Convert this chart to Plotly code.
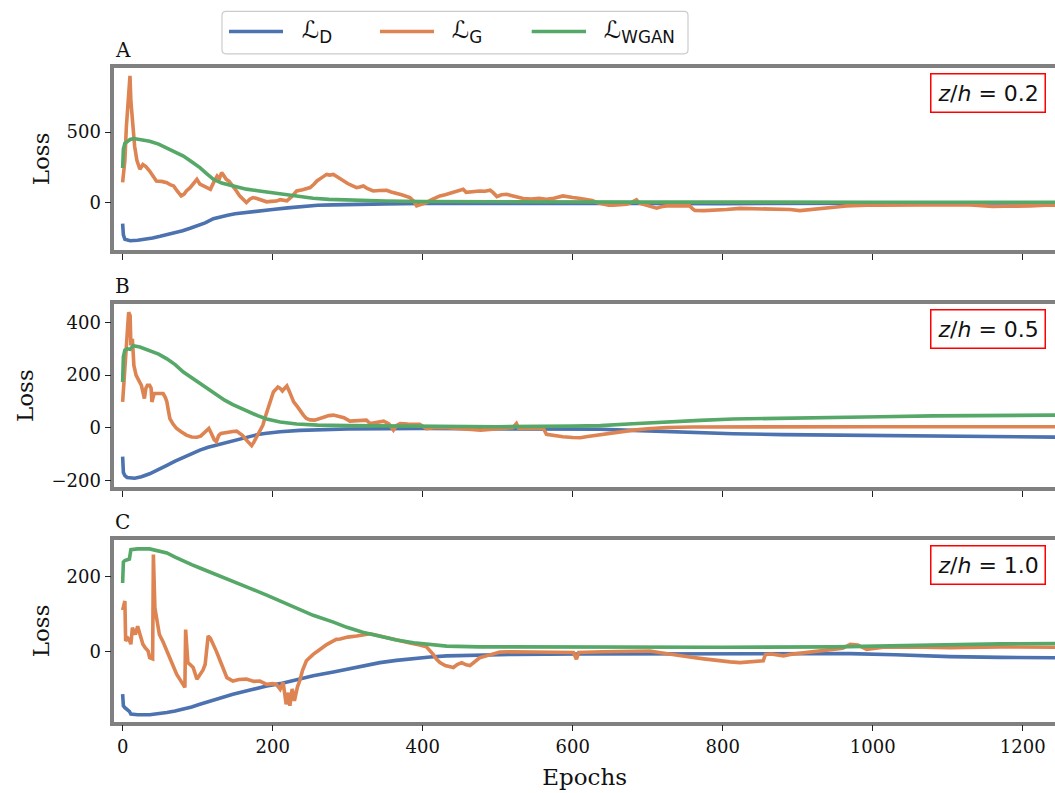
import plotly.graph_objects as go

# ---------------- data ----------------
a_d_ep = [0, 1, 3, 6, 10, 20, 30, 40, 50, 60, 70, 80, 90, 100, 110, 121, 130, 140, 150, 160, 180, 200, 220, 240, 260, 280, 300, 350, 400, 500, 600, 700, 800, 900, 1000, 1100, 1250]
a_d = [-150, -230, -262, -268, -272, -268, -262, -252, -240, -228, -215, -200, -183, -165, -145, -115, -100, -90, -80, -75, -62, -50, -38, -26, -20, -17, -14, -10, -6, -4, -4, -6, -8, -8, -6, -3, -2]

a_g_ep = [0, 3, 5, 7, 9.8, 11, 12, 14, 16, 19, 23, 27, 31, 36, 41, 45, 52, 59, 64, 68, 73, 78, 82, 85, 90, 95, 99, 103, 110, 117, 122, 126, 129, 132, 135, 138, 142, 147, 152, 156, 161, 165, 170, 174, 178, 183, 188, 192, 198, 205, 210, 215, 219, 225, 232, 240, 250, 255, 259, 265, 272, 276, 281, 287, 294, 300, 306, 312, 316, 321, 326, 334, 342, 352, 358, 365, 372, 383, 388, 392, 398, 405, 412, 418, 423, 430, 441, 447, 454, 458, 465, 476, 483, 490, 494, 499, 505, 512, 518, 525, 534, 545, 555, 565, 575, 587, 593, 600, 608, 619, 626, 632, 640, 648, 654, 663, 672, 680, 685, 689, 694, 705, 712, 718, 725, 740, 756, 760, 763, 775, 792, 805, 823, 840, 854, 876, 890, 903, 915, 930, 943, 955, 965, 980, 992, 1010, 1036, 1060, 1080, 1100, 1125, 1145, 1160, 1175, 1192, 1210, 1230, 1250]
a_g = [143, 300, 540, 700, 900, 720, 660, 560, 400, 300, 236, 270, 255, 224, 190, 153, 150, 141, 125, 118, 80, 47, 60, 82, 105, 140, 165, 130, 110, 94, 150, 188, 170, 212, 190, 165, 150, 118, 80, 47, 20, 0, 25, 35, 30, 23, 10, 5, 8, 10, 20, 12, 12, 40, 82, 90, 106, 130, 153, 175, 200, 195, 200, 180, 153, 135, 120, 106, 110, 118, 100, 82, 85, 87, 75, 66, 55, 35, 10, -24, -15, 0, 20, 35, 47, 55, 71, 80, 94, 72, 78, 82, 80, 87, 70, 42, 55, 59, 50, 40, 28, 25, 30, 23, 30, 47, 40, 35, 30, 23, 15, 0, -10, -20, -19, -15, -12, 5, 20, -5, -12, -25, -40, -30, -24, -22, -24, -45, -57, -58, -57, -50, -42, -45, -42, -45, -50, -58, -52, -47, -42, -30, -24, -20, -19, -20, -19, -15, -12, -14, -15, -22, -28, -27, -28, -24, -20, -19]

a_w_ep = [0, 1, 3, 6, 10, 15, 25, 36, 48, 59, 70, 81, 92, 103, 112, 121, 132, 147, 165, 180, 192, 210, 230, 254, 275, 300, 350, 400, 500, 700, 1000, 1250]
a_w = [245, 380, 420, 432, 448, 455, 448, 436, 415, 389, 360, 330, 290, 248, 205, 165, 138, 118, 95, 84, 75, 66, 45, 30, 22, 17, 11, 7, 4, 3, 2, 2]

b_d_ep = [0, 1, 3, 6, 16, 25, 36, 48, 59, 70, 81, 92, 103, 114, 125, 136, 147, 160, 170, 180, 192, 210, 236, 270, 300, 400, 500, 600, 637, 680, 725, 770, 814, 880, 947, 1010, 1080, 1160, 1250]
b_d = [-110, -170, -182, -189, -192, -186, -175, -160, -143, -127, -112, -97, -85, -74, -66, -56, -47, -38, -32, -26, -21, -15, -10, -7, -5, -3, -3, -4, -6, -10, -15, -20, -23, -26, -28, -30, -32, -34, -36]

b_g_ep = [0, 1, 3, 5, 7, 8, 10, 11, 13, 15, 18, 22, 25, 27, 29, 31, 33, 36, 38, 39, 42, 48, 54, 57, 59, 61, 63, 67, 72, 78, 85, 92, 99, 104, 108, 112, 115, 118, 122, 125, 128, 131, 138, 147, 152, 156, 160, 165, 170, 172, 175, 178, 183, 187, 190, 194, 198, 201, 204, 207, 210, 213, 216, 219, 222, 225, 228, 233, 237, 241, 245, 250, 256, 262, 268, 275, 281, 288, 295, 303, 310, 318, 325, 330, 338, 348, 355, 361, 365, 370, 380, 390, 396, 405, 415, 432, 450, 465, 477, 490, 499, 510, 520, 525, 528, 545, 561, 565, 575, 587, 600, 610, 620, 632, 645, 654, 665, 681, 700, 725, 760, 850, 1000, 1250]
b_g = [98, 140, 187, 313, 400, 439, 426, 313, 338, 237, 199, 180, 161, 136, 111, 150, 161, 161, 150, 98, 130, 130, 130, 115, 98, 65, 35, 15, -3, -15, -28, -35, -36, -32, -20, -8, -3, -20, -45, -53, -30, -22, -17, -14, -13, -20, -30, -47, -62, -68, -55, -38, -10, 10, 40, 73, 105, 136, 145, 155, 150, 140, 150, 159, 140, 118, 98, 80, 62, 48, 35, 30, 29, 35, 42, 46, 48, 44, 38, 25, 27, 30, 29, 16, 20, 25, 15, -9, 8, 16, 14, 13, 13, -3, 0, 0, -5, -7, -9, -5, -3, -2, 0, 16, -3, -2, -3, -25, -30, -34, -37, -38, -33, -28, -24, -22, -17, -9, -4, 1, 3, 4, 4, 4]

b_w_ep = [0, 1, 3, 6, 10, 14, 23, 36, 48, 59, 70, 81, 92, 103, 114, 125, 136, 147, 160, 170, 180, 192, 210, 232, 260, 300, 400, 500, 600, 637, 680, 725, 770, 814, 880, 947, 1010, 1080, 1160, 1250]
b_w = [174, 270, 295, 300, 298, 312, 307, 294, 280, 262, 240, 212, 190, 168, 145, 125, 105, 88, 70, 58, 46, 33, 22, 14, 10, 8, 6, 4, 6, 8, 15, 23, 28, 33, 37, 40, 42, 45, 47, 48]

c_d_ep = [0, 1, 3, 6, 9, 11, 20, 36, 48, 59, 70, 81, 92, 103, 125, 147, 170, 192, 210, 236, 254, 281, 299, 320, 343, 365, 388, 410, 432, 476, 521, 610, 700, 800, 900, 970, 1030, 1103, 1170, 1250]
c_d = [-114, -145, -150, -154, -160, -167, -169, -169, -167, -163, -159, -154, -148, -141, -128, -114, -103, -92, -86, -74, -65, -55, -48, -39, -30, -24, -19, -15, -12, -10, -8, -7, -7, -7, -6, -6, -9, -14, -16, -17]

c_g_ep = [0, 2, 3, 4, 7, 9, 11, 13, 15, 17, 20, 23, 27, 30, 34, 36, 40, 41, 43, 46, 49, 54, 59, 65, 72, 78, 83, 84, 85, 87, 90, 94, 99, 103, 107, 110, 114, 117, 121, 125, 130, 135, 139, 147, 155, 165, 175, 183, 192, 200, 205, 210, 214, 218, 221, 223, 226, 229, 233, 236, 240, 245, 254, 263, 272, 281, 285, 290, 300, 312, 320, 330, 340, 352, 360, 370, 383, 396, 405, 414, 418, 423, 430, 441, 446, 452, 458, 463, 470, 476, 485, 494, 503, 520, 543, 570, 601, 605, 608, 640, 676, 703, 715, 730, 743, 756, 775, 792, 810, 823, 840, 854, 857, 865, 875, 881, 890, 903, 925, 947, 960, 970, 980, 992, 1000, 1014, 1050, 1103, 1170, 1250]
c_g = [110, 125, 134, 28, 35, 30, 19, 63, 50, 45, 67, 45, 19, 10, 1, -17, -20, 258, 116, 80, 45, 25, 1, -25, -61, -80, -96, 58, 20, -30, -35, -43, -74, -61, -50, -35, 41, 35, 19, 0, -25, -50, -70, -79, -75, -74, -80, -79, -88, -86, -88, -101, -83, -141, -110, -145, -100, -132, -95, -79, -50, -25, -8, 5, 18, 28, 32, 33, 38, 41, 44, 47, 42, 36, 32, 28, 22, 17, 12, -8, -20, -30, -38, -43, -35, -30, -36, -38, -28, -17, -12, -8, -2, -1, -1, -2, -3, -21, -3, -1, -1, 1, -3, -8, -10, -15, -20, -25, -28, -30, -27, -25, -8, -7, -10, -12, -8, -5, 0, 3, 8, 19, 17, 5, 8, 11, 12, 10, 12, 11]

c_w_ep = [0, 1, 3, 6, 9, 11, 20, 36, 48, 59, 70, 81, 92, 103, 125, 147, 170, 192, 210, 236, 254, 281, 299, 320, 343, 365, 388, 410, 432, 476, 600, 800, 950, 1030, 1103, 1170, 1250]
c_w = [182, 238, 242, 244, 246, 271, 273, 273, 268, 262, 251, 240, 231, 222, 205, 187, 168, 150, 134, 112, 96, 78, 64, 51, 39, 30, 23, 18, 14, 12, 11, 11, 12, 15, 19, 20, 21]

panel_letters = ["A", "B", "C"]
zh_labels = ["0.2", "0.5", "1.0"]
legend_labels = ["ℒ<sub>D</sub>", "ℒ<sub>G</sub>", "ℒ<sub>WGAN</sub>"]
x_ticks = [0, 200, 400, 600, 800, 1000, 1200]
y_ticks = [[0, 500], [-200, 0, 200, 400], [0, 200]]
y_ranges = [[-338, 958], [-227, 471], [-187, 296]]
x_range = [-11.1, 1243]

colors = ["#4C72B0", "#DD8452", "#55A868"]

# ---------------- layout geometry (pixels) ----------------
W, H = 1055, 793
left_px = 114.3
panels_px = [(68, 251), (305, 489.3), (542.3, 724.3)]  # top, bottom

def px2x(p):
    return p / W

def py2y(p):
    return 1 - p / H

fig = go.Figure()

series = [
    [(a_d_ep, a_d), (a_g_ep, a_g), (a_w_ep, a_w)],
    [(b_d_ep, b_d), (b_g_ep, b_g), (b_w_ep, b_w)],
    [(c_d_ep, c_d), (c_g_ep, c_g), (c_w_ep, c_w)],
]

serif = "DejaVu Serif"
sans = "DejaVu Sans"
spine_col = "#808080"

for i, panel in enumerate(series):
    xa = "x" if i == 0 else f"x{i+1}"
    ya = "y" if i == 0 else f"y{i+1}"
    for j, (ep, val) in enumerate(panel):
        fig.add_trace(go.Scatter(x=ep, y=val, mode="lines", xaxis=xa, yaxis=ya,
                                 line=dict(color=colors[j], width=3.6),
                                 showlegend=False, hoverinfo="skip"))

layout = dict(width=W, height=H, margin=dict(l=0, r=0, t=0, b=0),
              paper_bgcolor="white", plot_bgcolor="white", showlegend=False)

for i in range(3):
    top, bot = panels_px[i]
    xk = "xaxis" if i == 0 else f"xaxis{i+1}"
    yk = "yaxis" if i == 0 else f"yaxis{i+1}"
    ya = "y" if i == 0 else f"y{i+1}"
    xa = "x" if i == 0 else f"x{i+1}"
    layout[xk] = dict(domain=[px2x(left_px), 1], range=x_range, anchor=ya,
                      tickvals=x_ticks, showticklabels=(i == 2),
                      ticks="outside", ticklen=6, tickwidth=1.3, tickcolor="#222",
                      showline=True, mirror=True, linecolor=spine_col, linewidth=3.5,
                      showgrid=False, zeroline=False,
                      tickfont=dict(family=serif, size=18, color="#111"))
    if i == 2:
        layout[xk]["title"] = dict(text="Epochs", font=dict(family=serif, size=23, color="#111"), standoff=14)
    layout[yk] = dict(domain=[py2y(bot), py2y(top)], range=y_ranges[i], anchor=xa,
                      tickvals=y_ticks[i], ticks="outside", ticklen=6, tickwidth=1.3, tickcolor="#222",
                      showline=True, mirror=False, linecolor=spine_col, linewidth=3.5,
                      showgrid=False, zeroline=False,
                      tickfont=dict(family=serif, size=18, color="#111"),
                      title=dict(text="Loss", font=dict(family=serif, size=23, color="#111"), standoff=12))

annotations = []
for i in range(3):
    top, bot = panels_px[i]
    annotations.append(dict(text=panel_letters[i], xref="paper", yref="paper",
                            x=px2x(left_px - 1), y=py2y(top - 4), xanchor="left", yanchor="bottom",
                            showarrow=False, font=dict(family=serif, size=20, color="#111")))
    annotations.append(dict(text=f"<i>z</i>/<i>h</i> = {zh_labels[i]}", xref="paper", yref="paper",
                            x=px2x(1046), y=py2y(top + 5), xanchor="right", yanchor="top",
                            showarrow=False, font=dict(family=sans, size=22, color="#111"),
                            bordercolor="red", borderwidth=1.5, borderpad=6, bgcolor="white"))

# legend (drawn as frame + line samples + labels)
shapes = []
lx0, lx1, ly0, ly1, r = 222, 688, 11.5, 54, 4
path = (f"M {px2x(lx0+r)},{py2y(ly0)} L {px2x(lx1-r)},{py2y(ly0)} "
        f"Q {px2x(lx1)},{py2y(ly0)} {px2x(lx1)},{py2y(ly0+r)} "
        f"L {px2x(lx1)},{py2y(ly1-r)} Q {px2x(lx1)},{py2y(ly1)} {px2x(lx1-r)},{py2y(ly1)} "
        f"L {px2x(lx0+r)},{py2y(ly1)} Q {px2x(lx0)},{py2y(ly1)} {px2x(lx0)},{py2y(ly1-r)} "
        f"L {px2x(lx0)},{py2y(ly0+r)} Q {px2x(lx0)},{py2y(ly0)} {px2x(lx0+r)},{py2y(ly0)} Z")
shapes.append(dict(type="path", path=path, xref="paper", yref="paper",
                   line=dict(color="#cccccc", width=1.2), fillcolor="white", layer="above"))
leg_lines = [(229, 283, 300), (380, 434, 450), (531.7, 586, 602)]
for k, (a, b, t) in enumerate(leg_lines):
    shapes.append(dict(type="line", xref="paper", yref="paper", x0=px2x(a), x1=px2x(b),
                       y0=py2y(31.5), y1=py2y(31.5), line=dict(color=colors[k], width=3.5), layer="above"))
    annotations.append(dict(text=legend_labels[k], xref="paper", yref="paper",
                            x=px2x(t), y=py2y(32), xanchor="left", yanchor="middle",
                            showarrow=False, font=dict(family=sans, size=24, color="#111")))

layout["shapes"] = shapes
layout["annotations"] = annotations
fig.update_layout(**layout)
fig.write_html("out.html")
